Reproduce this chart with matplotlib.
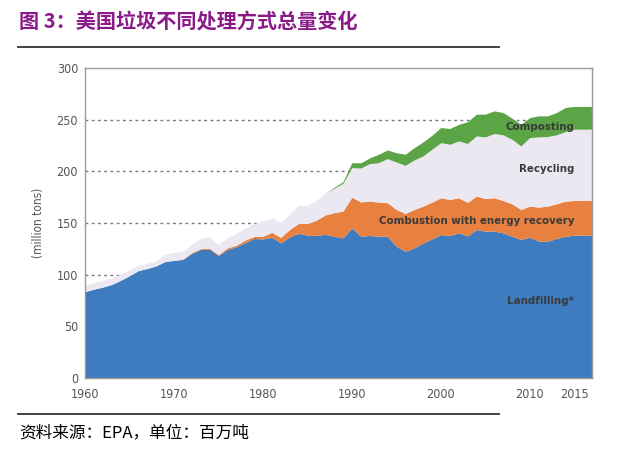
import matplotlib
matplotlib.use("Agg")
import matplotlib.pyplot as plt
from matplotlib.lines import Line2D
from matplotlib import font_manager
import numpy as np

years = np.arange(1960, 2016)

landfilling = [
    83.5, 86, 88, 90.5, 94.5, 99, 104, 106, 108.5, 112.8,
    113.8, 114.8, 120.5, 124.5, 124.5, 118.5, 124.5, 127, 131, 135,
    134.6, 136.2, 130.7, 136.6, 140, 138.2, 138, 139, 137.2, 135.6,
    145.2, 137.2, 137.9, 137.2, 137.2, 127.5, 122.6, 125.9, 130.7, 134.6,
    138.8, 137.9, 140.5, 137.5, 143.7, 142.1, 142.1, 140.5, 137.2, 134,
    136.2, 132.4, 132.4, 135, 137.2, 138.2,
]
combustion = [
    0, 0, 0, 0, 0, 0, 0, 0, 0, 0,
    0, 0.2, 1.0, 0.7, 1.0, 1.0, 1.5, 1.5, 2.5, 2.0,
    2.6, 4.8, 5.3, 7.1, 9.5, 11.3, 14.7, 18.8, 22.8, 25.9,
    29.8, 33.2, 33.3, 33.0, 32.4, 35.6, 36.6, 37.2, 35.6, 35.6,
    35.6, 34.9, 33.9, 32.5, 32.3, 31.7, 32.3, 31.3, 31.4, 29.1,
    30.1, 33.0, 33.9, 33.6, 34.0, 33.6,
]
recycling = [
    6.3, 6.5, 6.5, 6.5, 6.0, 5.5, 5.0, 5.0, 4.5, 7.2,
    7.7, 7.5, 8.3, 9.8, 11.0, 9.5, 10.0, 11.5, 11.5, 12.5,
    14.6, 14.0, 14.5, 15.1, 17.7, 17.7, 19.3, 21.0, 23.5, 27.0,
    28.6, 32.8, 36.3, 38.2, 42.7, 45.9, 46.6, 47.9, 48.6, 51.2,
    53.4, 53.4, 55.0, 57.0, 58.3, 59.5, 62.2, 63.5, 62.4, 61.5,
    66.4, 67.9, 67.4, 66.7, 67.3, 69.0,
]
composting = [
    0, 0, 0, 0, 0, 0, 0, 0, 0, 0,
    0, 0, 0, 0, 0, 0, 0, 0, 0, 0,
    0, 0, 0, 0, 0, 0, 0, 0, 1.0, 1.5,
    4.8, 5.0, 5.5, 8.1, 8.4, 9.0, 10.7, 11.9, 13.5, 13.5,
    14.6, 15.2, 16.0, 21.0, 21.0, 22.0, 21.9, 21.6, 20.5, 21.0,
    19.3, 20.4, 20.0, 21.6, 23.3, 22.0,
]

labels = ["Landfilling*", "Combustion with energy recovery", "Recycling", "Composting"]
colors = ["#3e7bbf", "#e8803f", "#ebe8f2", "#5ba547"]
label_y = [75, 151.5, 202, 243]

x_ticks = [1960, 1970, 1980, 1990, 2000, 2010, 2015]
y_ticks = [0, 50, 100, 150, 200, 250, 300]
guide_lines = [100, 150, 200, 250]
x_end = 2017

# condensed face if the system has one, else plain DejaVu
names = {f.name for f in font_manager.fontManager.ttflist}
if "Liberation Sans Narrow" in names:
    narrow = dict(family="Liberation Sans Narrow")
else:
    narrow = dict(family="DejaVu Sans", stretch="condensed")
cjk = ["Noto Sans CJK SC", "DejaVu Sans"]

fig = plt.figure(figsize=(6.4, 4.51), dpi=100)
ax = fig.add_axes([85 / 640, 1 - 378 / 451, 507 / 640, 310 / 451])

for g in guide_lines:
    ax.axhline(g, color="#777777", lw=1.0, ls=(0, (2, 2.5)), zorder=0)

# extend the last year flat up to the right edge of the axes
xs = np.append(years, x_end)
layers = [landfilling, combustion, recycling, composting]
base = np.zeros(len(xs))
for vals, col in zip(layers, colors):
    v = np.append(vals, vals[-1])
    ax.fill_between(xs, base, base + v, color=col, lw=0, zorder=2)
    base = base + v

for text, y in zip(labels, label_y):
    ax.text(2015, y, text, ha="right", va="center", fontsize=8.2,
            fontweight="bold", color="#3a3a3a", zorder=3, **narrow)

ax.set_xlim(1960, x_end)
ax.set_ylim(0, 300)
ax.set_xticks(x_ticks)
ax.set_yticks(y_ticks)
ax.tick_params(length=0, labelsize=9, labelcolor="#555555")
ax.tick_params(axis="x", pad=7)
ax.tick_params(axis="y", pad=5)
for lab in ax.get_xticklabels() + ax.get_yticklabels():
    lab.set_fontproperties(font_manager.FontProperties(size=9, **narrow))
for sp in ax.spines.values():
    sp.set_color("#999999")
    sp.set_linewidth(1.0)
ax.set_ylabel("(million tons)", fontsize=8.5, color="#555555", **narrow)
ax.yaxis.set_label_coords(-0.078, 0.5)

fig.text(19 / 640, 1 - 22 / 451, "图 3：美国垃圾不同处理方式总量变化", fontsize=14.5,
         fontweight="bold", color="#8b1a89", family=cjk, va="center", ha="left")
fig.add_artist(Line2D([18 / 640, 499 / 640], [1 - 46.5 / 451] * 2, color="#333333", lw=1.3))
fig.add_artist(Line2D([18 / 640, 499 / 640], [1 - 413.5 / 451] * 2, color="#333333", lw=1.3))
fig.text(19 / 640, 1 - 433 / 451, "资料来源：EPA，单位：百万吨", fontsize=12,
         color="black", family=cjk, va="center", ha="left")

fig.savefig("out.png", dpi=100)
